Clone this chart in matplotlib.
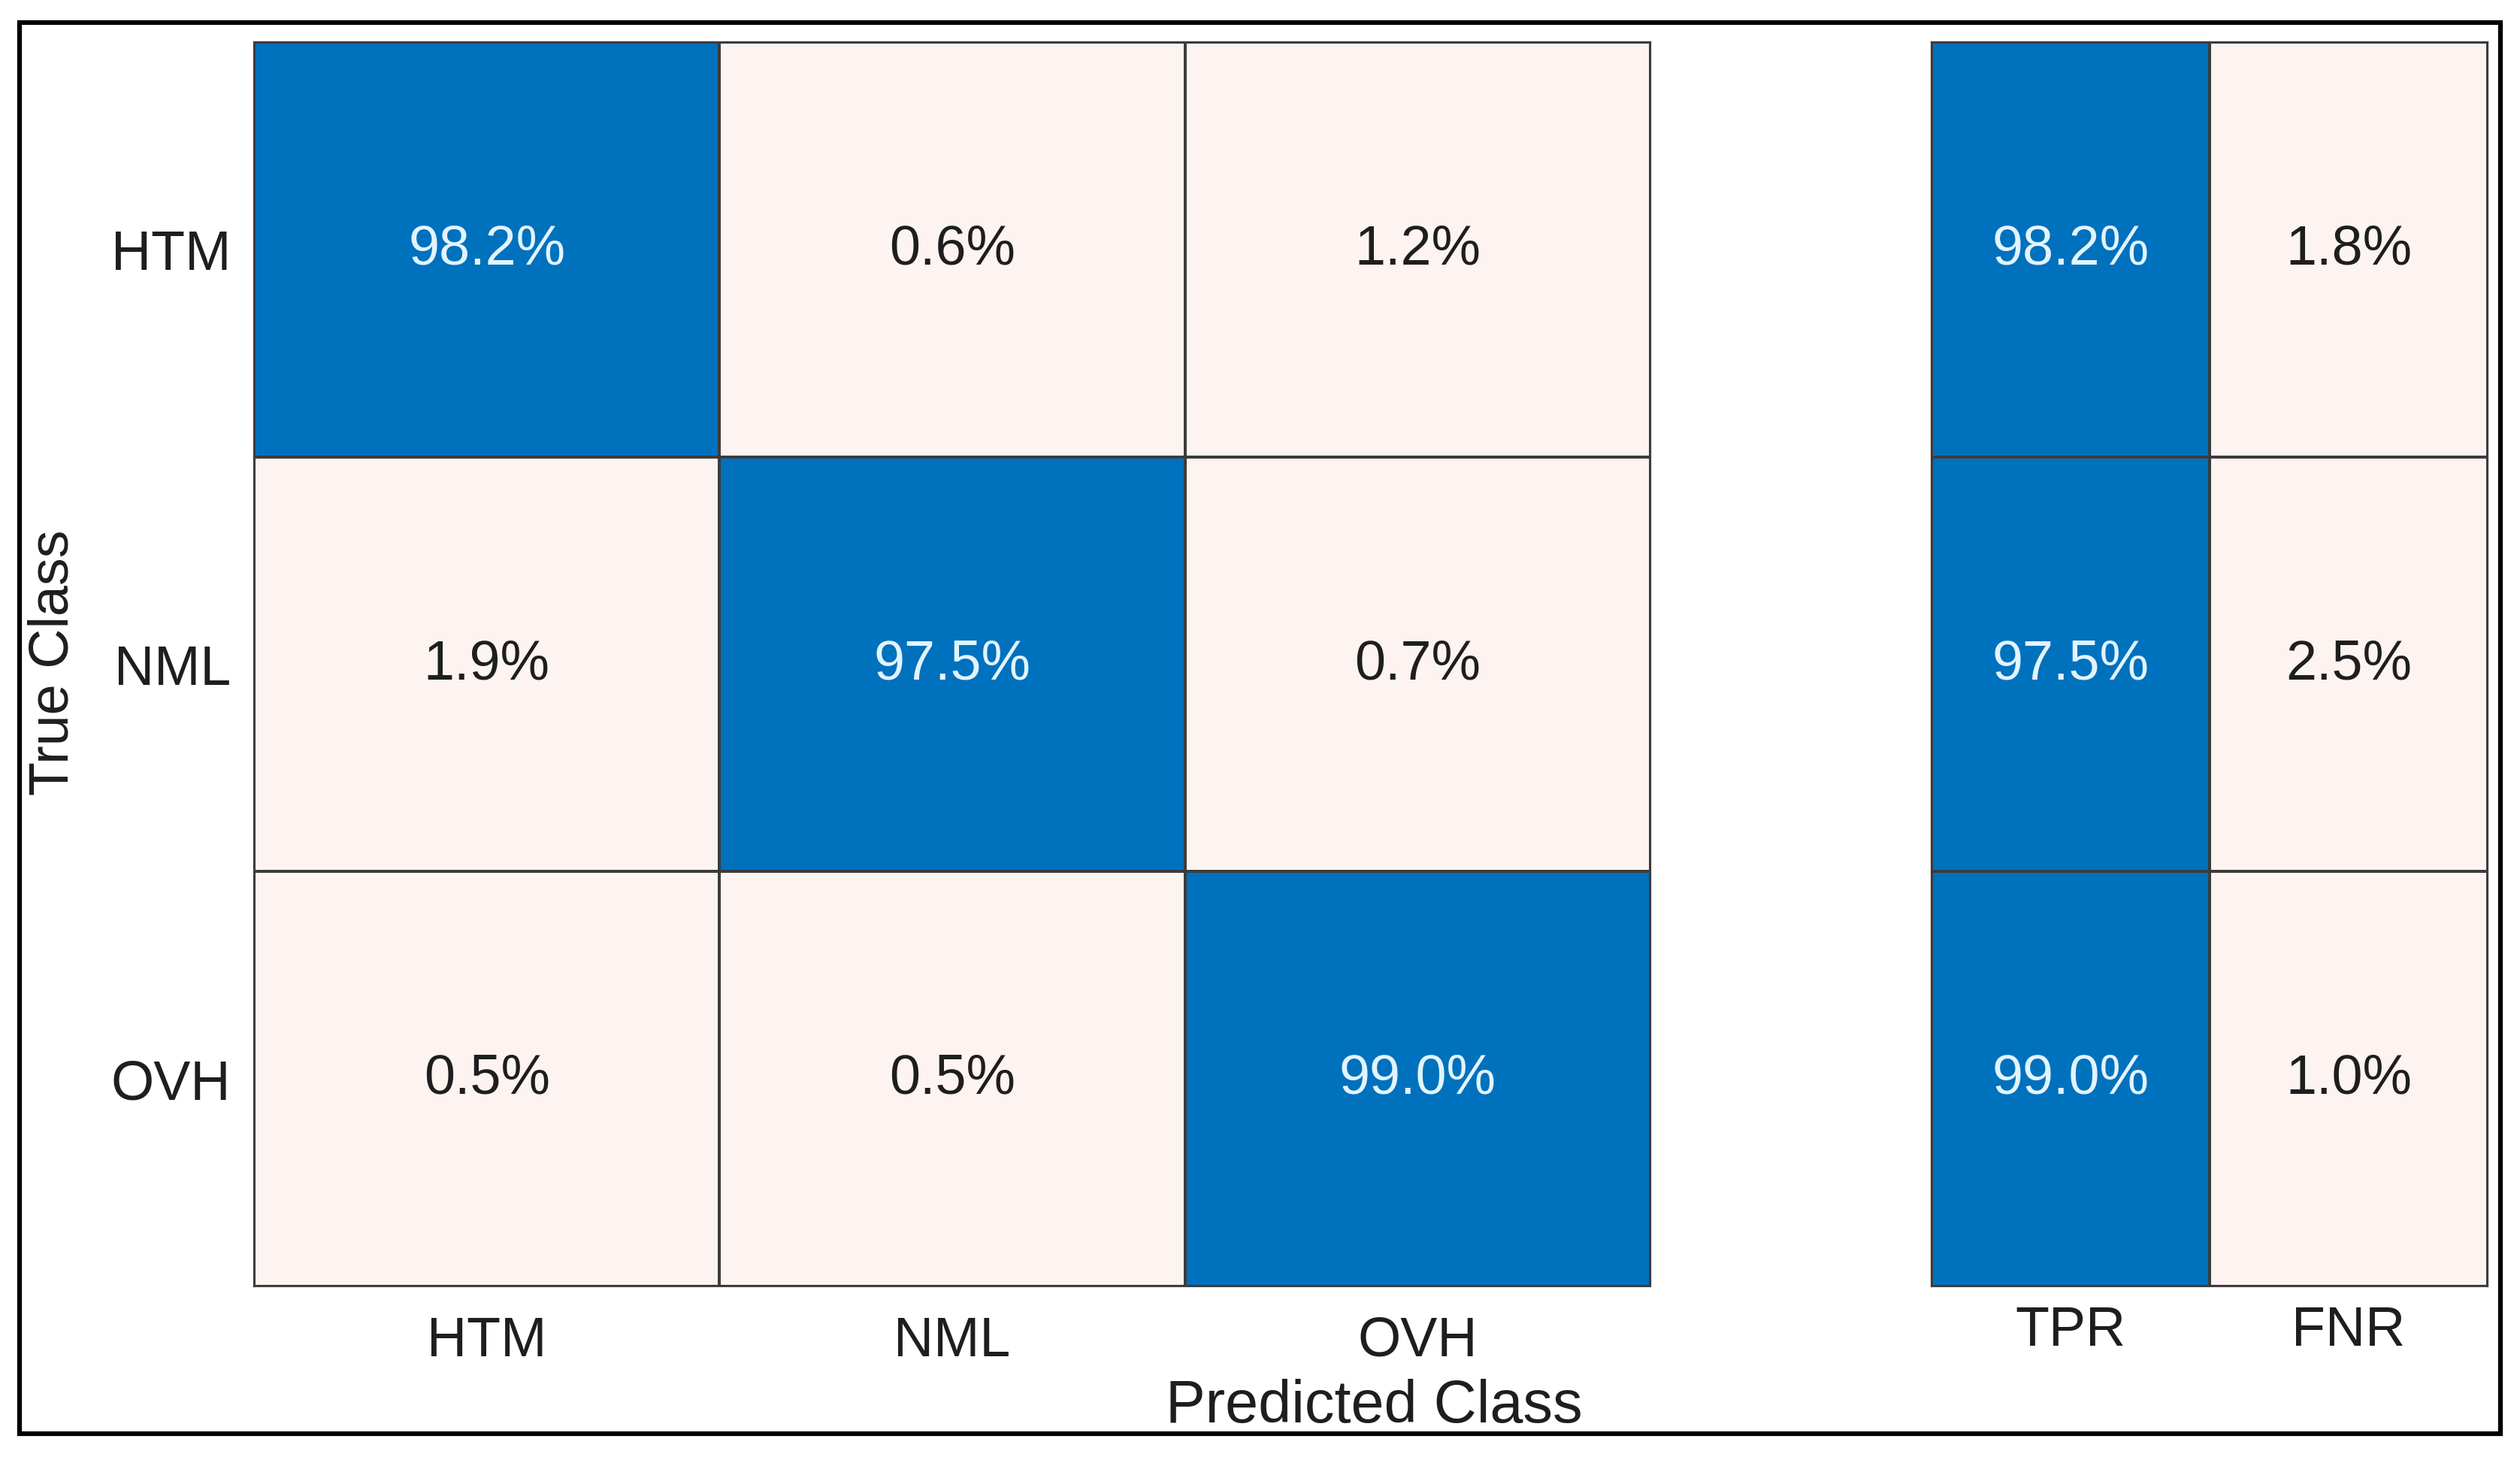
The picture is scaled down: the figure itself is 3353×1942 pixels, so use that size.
import matplotlib.pyplot as plt
import numpy as np
from matplotlib.colors import LinearSegmentedColormap
from matplotlib.patches import Rectangle

plt.rcParams['font.family'] = ['Liberation Sans', 'DejaVu Sans']

# data (row-normalised percentages)
classes = ['HTM', 'NML', 'OVH']
cm_pct = [[98.2, 0.6, 1.2],
          [1.9, 97.5, 0.7],
          [0.5, 0.5, 99.0]]
rate_labels = ['TPR', 'FNR']
tpr = [98.2, 97.5, 99.0]
fnr = [1.8, 2.5, 1.0]

light = '#FDF4F1'
blue = '#0071BD'
cmap = LinearSegmentedColormap.from_list(
    'cm', [(0, light), (0.1, light), (0.95, blue), (1, blue)])
grid_col = '#3c3c3c'
txt_col = '#1e1e1e'
fs = 53


def draw_matrix(ax, vals, xlabels, ylabels, xpad):
    vals = np.array(vals)
    nr, nc = vals.shape
    ax.pcolormesh(np.arange(nc + 1), np.arange(nr + 1), vals, cmap=cmap,
                  vmin=0, vmax=100, edgecolors=grid_col, linewidth=1.6)
    ax.set_xlim(0, nc)
    ax.set_ylim(nr, 0)
    for i in range(nr):
        for j in range(nc):
            v = vals[i, j]
            c = '#E2F4FF' if v > 50 else txt_col
            ax.text(j + 0.5, i + 0.5, '%.1f%%' % v, ha='center', va='center',
                    fontsize=fs, color=c)
    ax.set_xticks(np.arange(nc) + 0.5)
    ax.set_xticklabels(xlabels, fontsize=fs, color=txt_col)
    ax.set_yticks(np.arange(nr) + 0.5)
    ax.set_yticklabels(ylabels, fontsize=fs, color=txt_col)
    ax.tick_params(length=0, pad=xpad)
    ax.tick_params(axis='y', pad=22)
    for s in ax.spines.values():
        s.set_color(grid_col)
        s.set_linewidth(1.6)


fig = plt.figure(figsize=(33.53, 19.42), dpi=100)

ax1 = fig.add_axes([0.1008, 0.1189, 0.5541, 0.8523])
draw_matrix(ax1, cm_pct, classes, classes, 28)

rates = np.column_stack([tpr, fnr])
ax2 = fig.add_axes([0.7665, 0.1189, 0.2207, 0.8523])
draw_matrix(ax2, rates, rate_labels, [], 18)
ax2.set_yticks([])

fig.text(0.5453, 0.0365, 'Predicted Class', ha='center', va='center',
         fontsize=57, color=txt_col)
fig.text(0.0212, 0.546, 'True Class', ha='center', va='center',
         rotation=90, fontsize=fs, color=txt_col)

# black frame around the whole figure
fig.patches.append(Rectangle((0.0078, 0.018), 0.9845, 0.9665,
                             transform=fig.transFigure, fill=False,
                             edgecolor='black', linewidth=4.5))

fig.savefig('out.png', dpi=100, facecolor='white')
